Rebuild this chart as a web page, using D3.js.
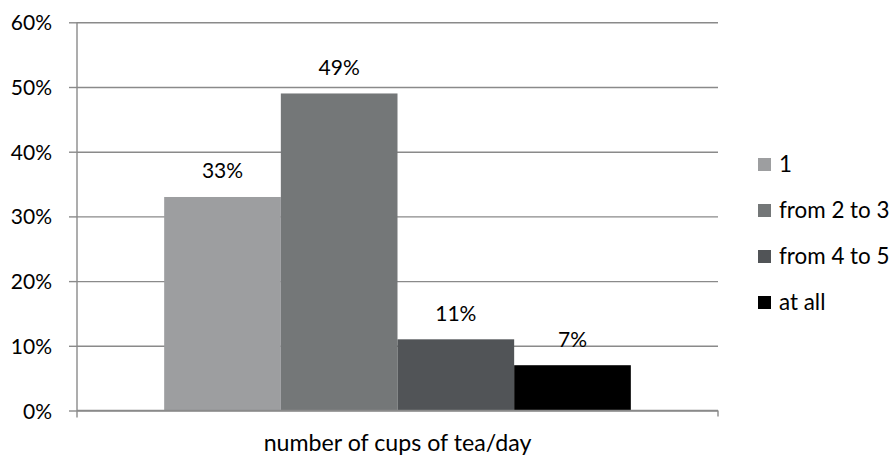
<!DOCTYPE html>
<html>
<head>
<meta charset="utf-8">
<script src="https://cdn.jsdelivr.net/npm/d3@7"></script>
<style>
  html, body { margin: 0; padding: 0; background: #fff; }
  svg text { font-family: Lato, "Open Sans", sans-serif; fill: #000; }
</style>
</head>
<body>
<svg id="chart" width="893" height="460"></svg>
<script>
// Share of respondents by number of cups of tea per day
const category = "number of cups of tea/day";
const seriesNames = ["1", "from 2 to 3", "from 4 to 5", "at all"];
const seriesValues = [0.33, 0.49, 0.11, 0.07];
const seriesColors = ["#9d9ea0", "#747778", "#515457", "#000000"];
const yTicks = [0, 0.1, 0.2, 0.3, 0.4, 0.5, 0.6];

const svg = d3.select("#chart");
const plot = { left: 77, right: 718, top: 22.3, bottom: 410.5 };
const gridColor = "#8a8a8a";
const numberSize = 21;
const titleSize = 23.2;
const legendSize = 22.4;

const y = d3.scaleLinear().domain([0, 0.6]).range([plot.bottom, plot.top]);
const x0 = d3.scaleBand().domain([category]).range([plot.left, plot.right])
  .paddingInner(0).paddingOuter(0.1868);
const x1 = d3.scaleBand().domain(seriesNames).range([0, x0.bandwidth()]).padding(0);
const pct = d3.format(".0%");

// horizontal gridlines with short ticks to the left of the axis
const yAxis = d3.axisLeft(y).tickValues(yTicks).tickFormat(pct)
  .tickSize(-(plot.right - plot.left)).tickSizeOuter(0).tickPadding(25);
const gy = svg.append("g").attr("transform", `translate(${plot.left},0)`).call(yAxis);
gy.select(".domain").remove();
gy.selectAll(".tick line").attr("stroke", gridColor).attr("stroke-width", 1.4);
gy.selectAll(".tick").append("line")
  .attr("x1", -8).attr("x2", 0).attr("stroke", gridColor).attr("stroke-width", 1.4);
gy.selectAll(".tick text")
  .attr("font-size", numberSize).attr("font-family", "Lato, sans-serif")
  .attr("fill", "#000").attr("dy", "0.36em");

// bars
const group = svg.append("g").attr("transform", `translate(${x0(category)},0)`);
group.selectAll("rect").data(seriesValues).join("rect")
  .attr("x", (d, i) => x1(seriesNames[i]))
  .attr("width", x1.bandwidth())
  .attr("y", d => y(d))
  .attr("height", d => y(0) - y(d))
  .attr("fill", (d, i) => seriesColors[i]);

// value labels
group.selectAll("text.value").data(seriesValues).join("text")
  .attr("class", "value")
  .attr("x", (d, i) => x1(seriesNames[i]) + x1.bandwidth() / 2)
  .attr("y", d => y(d) - 18.5)
  .attr("text-anchor", "middle")
  .attr("font-size", numberSize)
  .text(d => pct(d));

// axis lines
svg.append("line")
  .attr("x1", plot.left).attr("x2", plot.left)
  .attr("y1", plot.top).attr("y2", plot.bottom + 7)
  .attr("stroke", gridColor).attr("stroke-width", 1.4);
svg.append("line")
  .attr("x1", plot.left).attr("x2", plot.right)
  .attr("y1", plot.bottom).attr("y2", plot.bottom)
  .attr("stroke", gridColor).attr("stroke-width", 1.4);
svg.append("line")
  .attr("x1", plot.right).attr("x2", plot.right)
  .attr("y1", plot.bottom).attr("y2", plot.bottom + 6)
  .attr("stroke", gridColor).attr("stroke-width", 1.4);

// category title
svg.append("text")
  .attr("x", (plot.left + plot.right) / 2)
  .attr("y", 451)
  .attr("text-anchor", "middle")
  .attr("font-size", titleSize)
  .text(category);

// legend
const legend = svg.append("g").attr("transform", "translate(758,158)");
const item = legend.selectAll("g").data(seriesNames).join("g")
  .attr("transform", (d, i) => `translate(0,${i * 46})`);
item.append("rect").attr("width", 13).attr("height", 13)
  .attr("fill", (d, i) => seriesColors[i]);
item.append("text").attr("x", 21).attr("y", 14)
  .attr("font-size", legendSize).text(d => d);
</script>
</body>
</html>
